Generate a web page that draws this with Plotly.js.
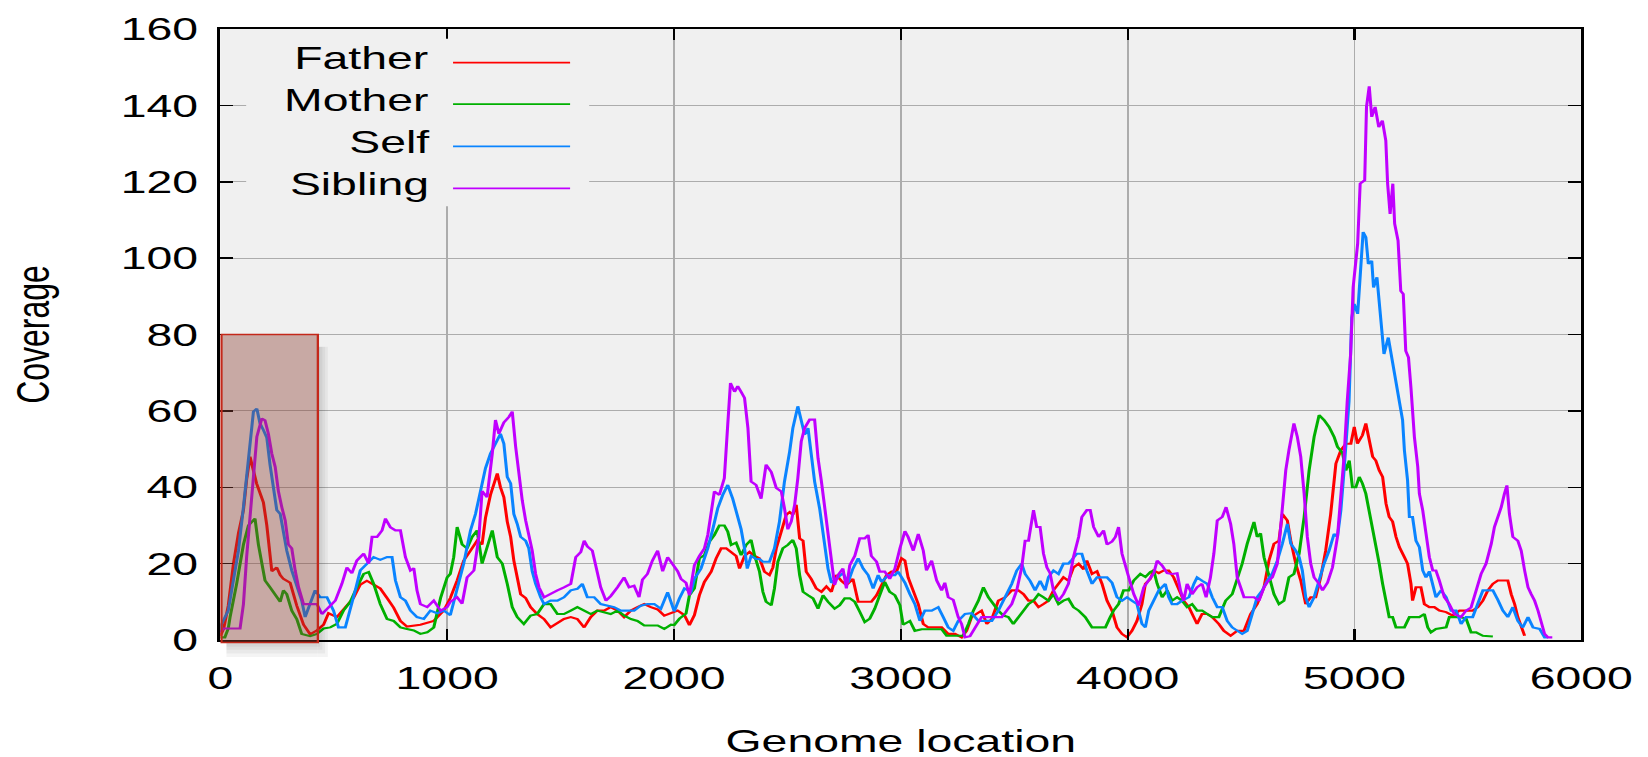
<!DOCTYPE html>
<html>
<head>
<meta charset="utf-8">
<script src="https://cdn.plot.ly/plotly-3.0.1.min.js"></script>
<style>
  html, body { margin: 0; padding: 0; background: #ffffff; width: 1648px; height: 757px; overflow: hidden; }
  #chart { width: 1137px; height: 780px; transform-origin: 0 0; }
</style>
</head>
<body>
<div id="chart"></div>
<script>
// ---------------- data (genome location, coverage) ----------------
const seriesNames = ["Father", "Mother", "Self", "Sibling"];
const seriesColors = ["#ff0000", "#00b000", "#0a84ff", "#c000ff"];

const fatherPts = [[0,1],[15,3],[35,9],[58,20],[80,28],[102,34],[116,42],[131,48],[160,41],[190,36],[205,30],[227,18],[249,19],[264,17],[278,16],[308,15],[337,9],[367,4],[396,1.5],[425,2.5],[455,4],[477,7],[514,6],[558,9],[587,11],[617,14.5],[646,15.5],[676,14.5],[705,13.5],[735,11],[764,8.5],[794,5],[823,3.5],[882,4],[941,5],[985,7.7],[1014,11],[1044,15.6],[1073,20.8],[1103,23.4],[1132,26],[1154,25],[1169,32],[1191,38],[1213,41.8],[1221,43.6],[1235,40],[1250,37.4],[1265,31],[1280,27],[1294,20.8],[1309,15.6],[1324,12],[1346,11],[1368,8.6],[1397,6.8],[1427,5.5],[1456,3.3],[1486,4.5],[1515,5.5],[1545,6],[1574,5.5],[1604,3.3],[1633,6],[1662,7.7],[1692,7.7],[1721,8.6],[1751,7.7],[1780,6],[1810,7.7],[1839,8.6],[1869,9.4],[1898,8.6],[1928,8],[1957,6.4],[1987,7],[2016,7.7],[2046,6.5],[2068,3.9],[2090,6.5],[2112,11.7],[2134,15.2],[2164,17.9],[2186,21.4],[2208,24],[2230,24],[2252,23.1],[2274,22],[2289,18.7],[2311,22],[2333,23.1],[2355,22],[2377,21.4],[2399,17.9],[2421,17],[2436,19],[2451,24],[2473,28.4],[2495,32.8],[2510,33.5],[2524,32.8],[2539,35.4],[2554,26.6],[2569,26],[2583,17.9],[2605,16],[2627,13.5],[2650,12.6],[2672,14],[2694,12.6],[2716,17],[2738,15.5],[2760,14.4],[2789,16],[2812,10],[2841,10],[2870,10],[2893,11.7],[2915,14.4],[2937,17],[2959,17.9],[2981,17.9],[3003,21.4],[3018,20.8],[3032,16.4],[3055,13],[3077,9.4],[3099,4.2],[3121,3.3],[3150,3.3],[3180,3.3],[3209,1.6],[3239,1.6],[3268,0.7],[3290,2.4],[3312,6],[3334,6.8],[3356,7.7],[3379,4.2],[3401,5.5],[3430,10.3],[3460,11.2],[3489,13],[3518,13],[3541,12],[3563,10.3],[3585,10.3],[3607,8.6],[3629,9.4],[3651,10.3],[3673,13],[3695,14.7],[3717,16.4],[3739,15.5],[3761,19],[3784,20],[3806,18.5],[3820,20.8],[3843,17.3],[3865,18],[3887,14.7],[3909,10.3],[3931,7.7],[3953,3.3],[3975,1.6],[3997,0.7],[4019,2.4],[4041,5],[4063,9.4],[4078,14.7],[4100,16],[4115,18.2],[4137,17.5],[4159,18.2],[4181,18.2],[4203,16.4],[4225,13],[4247,10.3],[4270,8.6],[4292,6],[4306,4.2],[4328,6.8],[4351,6.8],[4373,6],[4402,4.2],[4424,2.4],[4454,1.1],[4483,2.4],[4513,2.4],[4542,6.8],[4571,9.4],[4601,13.8],[4623,20.8],[4645,25.2],[4667,26],[4682,33],[4704,31.3],[4719,26],[4741,20],[4763,15.6],[4785,9.4],[4807,11.2],[4829,11.2],[4851,16.4],[4873,23.4],[4895,33],[4918,46.2],[4940,49.7],[4962,51.4],[4984,51.4],[4999,55.8],[5013,51.4],[5035,53.6],[5050,56.7],[5065,52.3],[5080,48],[5094,47],[5109,44.4],[5124,42.7],[5139,35.7],[5153,32.2],[5168,31],[5183,27],[5198,24.3],[5220,21.7],[5234,20],[5249,14.7],[5256,10.3],[5271,13.8],[5293,13.8],[5308,9.4],[5330,8.6],[5352,8.6],[5374,7.7],[5404,7.3],[5433,6.4],[5463,7.7],[5492,7.7],[5521,7.7],[5544,8.6],[5566,10.3],[5588,13],[5610,14.7],[5632,15.6],[5654,15.6],[5676,15.6],[5691,12],[5706,9.4],[5720,6],[5735,3.3],[5750,1.1]];

const motherPts = [[0,0.7],[20,0.7],[35,3],[43,6],[72,14.7],[102,25],[124,30],[153,31.8],[168,25],[183,20],[197,15.6],[219,13.8],[242,12],[264,10],[278,13],[293,12],[315,7.7],[337,5.5],[359,1.6],[396,1],[426,1.6],[455,3],[485,3.3],[514,4.2],[543,7.7],[573,10],[602,13.8],[632,17.3],[654,17.8],[676,14.7],[705,9.4],[735,5.5],[764,5],[794,3.3],[823,2.9],[853,2.5],[882,1.6],[912,2],[941,3.3],[971,11],[1000,16.4],[1014,17.3],[1029,21.7],[1044,29.6],[1066,25],[1088,24],[1110,27],[1132,28.7],[1154,20],[1176,24],[1199,28.7],[1221,21.7],[1243,20],[1265,14.7],[1287,8.6],[1309,6],[1338,4.2],[1368,6.4],[1397,6.8],[1427,9.4],[1456,9.4],[1486,6.8],[1515,6.8],[1545,7.7],[1574,8.6],[1604,7.7],[1633,6.8],[1662,7.7],[1692,7.3],[1721,6.8],[1751,7.7],[1780,6.4],[1810,5.5],[1839,5],[1869,3.8],[1898,3.8],[1928,3.8],[1957,2.9],[1987,4],[2001,3.9],[2024,5.6],[2053,6.9],[2068,11.7],[2090,13.5],[2112,21.4],[2134,22.2],[2156,25.7],[2178,27.5],[2200,30],[2222,30],[2237,28.4],[2252,24.9],[2274,25.5],[2296,22.2],[2318,24.9],[2340,26.2],[2355,22.2],[2377,17.9],[2392,12.6],[2406,10],[2429,9.1],[2443,13.5],[2458,20.5],[2480,24],[2502,24.9],[2524,26.2],[2539,24],[2554,17],[2569,12.6],[2591,11.7],[2613,10.9],[2635,8.2],[2657,11.7],[2679,10],[2708,8.2],[2730,9.1],[2753,10.9],[2775,10.9],[2797,10],[2819,7.4],[2841,4.7],[2863,5.6],[2885,8.2],[2907,11.7],[2929,15.2],[2951,12.6],[2974,11.7],[2996,9.1],[3010,4],[3040,5],[3062,2.4],[3092,2.8],[3121,2.8],[3150,2.8],[3180,2.8],[3202,1.1],[3239,1.1],[3275,1.1],[3298,4.2],[3320,7.7],[3342,10.3],[3364,13.8],[3386,11.2],[3408,9.4],[3430,7.7],[3452,6.4],[3474,6],[3496,4.2],[3518,6],[3541,7.7],[3563,9.4],[3585,10.3],[3607,12],[3629,11.2],[3651,10.3],[3673,12],[3695,9.4],[3717,10.3],[3739,10.8],[3761,8.6],[3784,7.7],[3813,6],[3843,3.3],[3872,3.3],[3902,3.3],[3923,6],[3938,7.7],[3960,9.4],[3982,13],[4005,13],[4027,15.6],[4056,17.3],[4078,16.5],[4100,17.8],[4115,18.2],[4130,14.7],[4152,11.2],[4174,13],[4196,10.3],[4218,11.2],[4240,10.3],[4262,8.6],[4284,9.4],[4306,7.7],[4328,7.7],[4351,6.8],[4373,6],[4402,6],[4432,10.3],[4461,12],[4483,15.6],[4505,20],[4527,25.2],[4557,30.9],[4571,27],[4586,27.9],[4601,21.7],[4623,16.4],[4645,12],[4667,9.4],[4689,10.3],[4711,16.4],[4733,17.3],[4756,22.6],[4778,32.2],[4800,44.4],[4822,53.2],[4844,58.9],[4866,57.6],[4888,55.8],[4910,53.2],[4925,50.6],[4947,49],[4962,44.4],[4977,47],[4991,40],[5006,40],[5021,42.7],[5035,41],[5050,38.3],[5065,34],[5080,28.7],[5094,25.2],[5109,20],[5124,14.7],[5139,9.4],[5153,6],[5168,6],[5183,3.3],[5220,3.3],[5242,6],[5286,6],[5308,6.8],[5323,3.3],[5337,2],[5359,2.9],[5404,3.3],[5418,6],[5463,6],[5492,5.6],[5514,2],[5536,2],[5566,1.1],[5610,0.9]];

const selfPts = [[0,2],[6,4.2],[35,7.7],[57,14.7],[80,23.4],[102,34.8],[124,48.8],[146,59.8],[161,60.6],[175,56.7],[190,55],[205,53],[219,46],[234,39],[249,34],[264,33],[278,28.7],[293,23.4],[315,18.2],[337,13.8],[359,10.3],[374,6],[396,9.4],[418,13],[440,11.2],[470,11.2],[499,7.7],[521,3.3],[551,3.3],[573,7.7],[595,13],[617,18.2],[647,20],[676,21.7],[705,21],[735,21.7],[757,21.7],[772,15.6],[794,11.2],[816,10.3],[838,7.7],[867,6],[897,5.5],[926,7.7],[956,7],[985,7.7],[1014,6.5],[1044,13],[1073,20],[1103,28.7],[1125,33],[1147,39],[1169,45],[1191,48.8],[1213,51.4],[1235,54],[1250,51.4],[1265,42.7],[1280,41],[1294,33],[1309,30.4],[1324,27],[1346,26],[1360,24],[1375,18],[1390,14.7],[1412,11.2],[1427,9.4],[1456,10.3],[1486,10.3],[1515,11.2],[1545,13],[1574,13.4],[1596,14.7],[1618,11.2],[1648,11.2],[1677,9.4],[1707,9],[1736,8.6],[1766,7.7],[1795,7.7],[1824,7.7],[1854,9],[1883,9.4],[1913,9.4],[1942,8.2],[1972,12.5],[2001,7.5],[2024,10.9],[2046,13.5],[2075,12.6],[2090,16],[2119,18.7],[2149,24],[2171,29],[2193,34.5],[2215,38],[2237,40.6],[2259,37],[2281,31.9],[2296,29],[2311,24],[2323,18.7],[2340,22],[2362,21.2],[2377,21.2],[2392,20.5],[2421,20.5],[2443,24],[2465,31],[2487,41.5],[2510,49.4],[2524,55.5],[2546,61.2],[2561,58],[2576,53.8],[2591,55.5],[2605,47.6],[2620,41.5],[2642,34.5],[2664,25.7],[2679,18.7],[2694,15],[2723,16.5],[2745,17.5],[2767,15],[2789,18.7],[2812,21.4],[2834,18.7],[2856,17],[2878,13.5],[2900,17],[2915,15.2],[2944,17],[2974,17],[2988,17.9],[3018,15],[3040,12],[3062,9.4],[3084,5],[3106,7.7],[3136,7.7],[3165,8.6],[3187,6],[3209,3.3],[3231,2.4],[3253,5],[3283,6.8],[3312,7],[3342,5],[3371,5],[3401,5],[3430,7.7],[3460,11.2],[3489,14.7],[3511,18.2],[3533,20],[3548,17.3],[3570,15.5],[3592,13],[3614,15.5],[3636,13],[3651,16.5],[3673,18.2],[3695,17.3],[3717,20],[3739,20],[3754,21],[3776,22.6],[3798,22.6],[3820,18.2],[3843,14.7],[3865,16.4],[3887,16.4],[3909,16.4],[3931,15],[3953,11.2],[3975,10.3],[3997,11.2],[4019,10.3],[4041,9.4],[4063,4.2],[4078,3.3],[4093,7.7],[4115,10.3],[4137,13],[4166,14.7],[4181,11.2],[4196,9.4],[4218,9.4],[4240,10.3],[4270,11.2],[4292,14.7],[4306,16.4],[4328,15.5],[4351,14.7],[4373,11.2],[4395,8.6],[4417,8.6],[4439,5],[4461,3.3],[4483,2.4],[4505,1.6],[4527,2.4],[4549,6.8],[4571,11.2],[4594,13],[4616,15.6],[4638,17.5],[4660,20.8],[4682,25.2],[4704,30.4],[4719,25.2],[4741,23.4],[4756,21.7],[4770,18.2],[4785,11.2],[4800,8.6],[4822,11.2],[4844,15.6],[4866,20],[4888,23.4],[4910,27.8],[4925,27],[4940,34],[4954,44.4],[4969,57.6],[4976,62.5],[4988,84.4],[4999,88],[5014,85.4],[5025,97.6],[5038,106.8],[5050,105.5],[5061,98.5],[5076,99.3],[5084,92.3],[5099,95],[5107,89.7],[5123,81.8],[5130,74.9],[5149,79.2],[5161,74.9],[5177,69.6],[5189,64.4],[5198,62.8],[5212,57.6],[5220,49.7],[5234,41.8],[5242,32.2],[5256,32.2],[5271,26],[5286,24.3],[5301,18.2],[5315,16.4],[5330,18],[5345,14.7],[5359,11.2],[5382,13],[5404,11.2],[5426,7.7],[5448,7.7],[5470,4.2],[5492,6],[5521,6],[5544,9.4],[5566,13],[5588,13],[5610,13],[5632,10.5],[5654,7.7],[5676,6],[5698,8.6],[5720,5],[5742,3.3],[5765,6],[5787,3.3],[5816,2.9],[5838,0.7],[5853,0.7]];

const siblingPts = [[0,2],[13,3],[87,3],[102,9.4],[116,21.7],[131,31.3],[146,41.8],[161,53.2],[183,58],[197,57.5],[212,54],[227,48.8],[242,45.3],[256,39],[271,34.8],[286,31.3],[300,25],[315,24],[330,18.2],[345,13.8],[367,9.4],[396,9.4],[426,9.4],[448,6.8],[477,8.5],[507,10.3],[536,14.7],[558,19],[580,17.5],[602,20.8],[632,22.6],[654,20],[669,27],[691,27],[713,28.7],[728,31.8],[750,29.5],[772,28.7],[794,28.7],[816,21.7],[838,18.2],[853,18.8],[867,13],[882,9.4],[912,8.6],[941,10.3],[971,7.7],[1000,8.6],[1014,10],[1044,11.2],[1066,9.5],[1088,16.4],[1118,18.2],[1140,27],[1154,39],[1176,37.4],[1199,48.8],[1213,57.6],[1228,54],[1250,57],[1272,58.4],[1287,59.8],[1302,50.6],[1316,42.7],[1331,36.6],[1346,31.3],[1360,27.8],[1375,23.4],[1390,17.3],[1405,13.8],[1427,11.2],[1456,12.2],[1486,13],[1515,13.8],[1545,14.7],[1567,21.7],[1589,23],[1604,26],[1618,24.5],[1640,23.4],[1662,17.3],[1677,13.8],[1700,10.3],[1721,11.5],[1751,13.8],[1780,16.4],[1802,13.8],[1824,14.2],[1846,11.2],[1861,15.8],[1883,17.3],[1905,20.8],[1928,23.4],[1950,18],[1972,21.7],[2001,19],[2016,18],[2031,16],[2053,15],[2068,11.7],[2090,19.6],[2112,22],[2134,24],[2149,27.5],[2164,33.6],[2178,38.9],[2200,38],[2222,42.4],[2237,56.4],[2249,67.3],[2267,65],[2281,66.5],[2296,65],[2311,63.4],[2326,55.5],[2340,41.5],[2362,40.6],[2384,37],[2406,45.9],[2429,44],[2451,39.8],[2473,38.9],[2487,34.5],[2502,29],[2517,31],[2532,35.4],[2546,42.4],[2561,52],[2576,55.5],[2598,57.7],[2620,57.7],[2635,47.6],[2650,41.5],[2664,34.5],[2679,29],[2694,21.4],[2708,14.4],[2723,17],[2745,18.7],[2760,13.5],[2775,19.6],[2797,22],[2819,26.6],[2841,26.6],[2856,27.5],[2870,22],[2893,20.5],[2907,17.9],[2929,17.9],[2951,16],[2974,18.7],[2996,24],[3018,28.5],[3032,27],[3055,23.4],[3077,27.8],[3099,23.4],[3113,18.2],[3136,20.8],[3158,15.6],[3180,13],[3194,15],[3209,11.2],[3231,10.5],[3253,6],[3268,4.2],[3283,0.7],[3305,1],[3327,3],[3356,6],[3386,6],[3415,6],[3445,6],[3467,7.7],[3489,9.4],[3511,13],[3533,19],[3548,26],[3563,26],[3585,34],[3599,29.6],[3614,29.6],[3629,22.6],[3644,19],[3658,17.5],[3673,13],[3695,10.3],[3717,12],[3739,14.7],[3761,21.7],[3784,27],[3798,32.2],[3820,34],[3835,34],[3850,29.6],[3872,27],[3894,28.7],[3909,25],[3931,25.8],[3946,27],[3960,29.6],[3975,22.6],[3990,19],[4005,16.4],[4027,12],[4049,9],[4071,13.8],[4093,15.6],[4115,17.5],[4130,20.8],[4152,19.5],[4174,17.5],[4196,17.3],[4218,17.5],[4233,13],[4247,10.3],[4262,14.7],[4284,12],[4306,13.8],[4328,14.7],[4346,11.2],[4365,16.4],[4380,22.6],[4395,31.3],[4417,32.2],[4434,34.8],[4454,30.4],[4468,25.2],[4483,16.4],[4498,13.8],[4513,11.2],[4535,11.2],[4557,11.2],[4579,10.3],[4601,13.8],[4616,15.2],[4638,16.4],[4660,20],[4682,36.6],[4697,44.4],[4711,49.7],[4733,56.7],[4748,53.2],[4763,48],[4778,38.3],[4792,27],[4807,20],[4822,16.4],[4844,14.7],[4859,13],[4881,15],[4903,19],[4925,27],[4940,37.4],[4954,48],[4968,62.5],[4983,74.9],[4994,92.3],[5014,103.8],[5025,119.5],[5045,120.4],[5053,139.6],[5065,145],[5076,137],[5091,139.6],[5107,134.3],[5123,136],[5138,130.8],[5146,119.5],[5157,111.6],[5169,119.5],[5177,109],[5192,104.6],[5204,91.4],[5215,90.6],[5226,75.7],[5238,74],[5249,66],[5256,60.2],[5264,53.2],[5279,45.3],[5286,38.3],[5301,33.9],[5315,27],[5330,21.7],[5345,18.2],[5359,18.2],[5374,15.6],[5396,11.2],[5418,9.4],[5440,6.8],[5470,6],[5492,7.7],[5514,8.5],[5536,13],[5558,17.3],[5580,20],[5603,25.2],[5617,29.6],[5632,32.2],[5647,34.8],[5661,38.3],[5672,40.5],[5683,33],[5698,27],[5720,26],[5735,23.4],[5750,18.2],[5765,13.8],[5779,12],[5794,10.3],[5809,7.7],[5823,4.2],[5838,1.6],[5853,0.7],[5872,0.7]];

const xTickVals = [0, 1000, 2000, 3000, 4000, 5000, 6000];
const yTickVals = [0, 20, 40, 60, 80, 100, 120, 140, 160];
const xTitle = "Genome location";
const yTitle = "Coverage";
const highlightRegion = [0, 430, 80];   // genome start, genome end, coverage top

// ---------------- build ----------------
const allPts = [fatherPts, motherPts, selfPts, siblingPts];
const traces = allPts.map((pts, i) => ({
  type: "scatter",
  mode: "lines",
  name: seriesNames[i],
  x: pts.map(p => p[0]),
  y: pts.map(p => p[1]),
  line: { color: seriesColors[i], width: 2.1 },
  hoverinfo: "skip",
  showlegend: false
}));

const FONT = '"Liberation Sans", Arial, Helvetica, sans-serif';

// manual legend: text right-aligned, sample line on the right
const legRowsY = [0.945, 0.877, 0.808, 0.739];
const legendShapes = [
  { type: "rect", xref: "paper", yref: "paper", x0: 0.019, x1: 0.271, y0: 0.710, y1: 0.984,
    fillcolor: "#f0f0f0", line: { width: 0 }, layer: "above" }
];
const legendAnns = [];
seriesNames.forEach((nm, i) => {
  legendShapes.push({ type: "line", xref: "paper", yref: "paper", x0: 0.171, x1: 0.257,
    y0: legRowsY[i], y1: legRowsY[i], line: { color: seriesColors[i], width: 1.8 }, layer: "above" });
  legendAnns.push({ xref: "paper", yref: "paper", x: 0.1555, y: legRowsY[i] + 0.007, xanchor: "right",
    yanchor: "middle", text: nm, showarrow: false, font: { family: FONT, size: 32, color: "#000" } });
});

const hx0 = highlightRegion[0] + 5, hx1 = highlightRegion[1], hyTop = highlightRegion[2] / 160;
const shadowColor = "rgba(0,0,0,0.045)";
const regionShapes = [];
// soft drop shadow on the right and below the region box
[[44, 0.024], [32, 0.018], [20, 0.012], [10, 0.007]].forEach(([dx, dy]) => {
  regionShapes.push({ type: "rect", xref: "x", yref: "paper", x0: hx1, x1: hx1 + dx,
    y0: -0.004 - dy, y1: hyTop - 0.02, fillcolor: shadowColor, line: { width: 0 }, layer: "above" });
  regionShapes.push({ type: "rect", xref: "x", yref: "paper", x0: hx0 + 22, x1: hx1,
    y0: -0.004 - dy, y1: -0.004, fillcolor: shadowColor, line: { width: 0 }, layer: "above" });
});
// highlighted region
regionShapes.push({ type: "rect", xref: "x", yref: "paper", x0: hx0, x1: hx1, y0: -0.004, y1: hyTop,
  fillcolor: "rgba(140,62,50,0.40)", line: { color: "#c4281a", width: 1.6 }, layer: "above" });

const axisCommon = {
  ticks: "inside", tickcolor: "#000", tickwidth: 1.5,
  showline: true, linecolor: "#000", linewidth: 2, mirror: "ticks",
  showgrid: true, gridcolor: "#acacac", gridwidth: 1.2, zeroline: false,
  tickfont: { family: FONT, size: 32, color: "#000" },
  fixedrange: true, automargin: false
};

const layout = {
  width: 1137, height: 780,
  margin: { l: 152, r: 46, t: 29, b: 140, pad: 0 },
  paper_bgcolor: "#ffffff", plot_bgcolor: "#f0f0f0",
  font: { family: FONT, size: 32, color: "#000" },
  showlegend: false,
  xaxis: Object.assign({}, axisCommon, {
    range: [0, 6000], tickmode: "array", tickvals: xTickVals, ticklen: 11,
    ticklabelstandoff: 9,
    title: { text: xTitle, font: { family: FONT, size: 32, color: "#000" }, standoff: 34 }
  }),
  yaxis: Object.assign({}, axisCommon, {
    range: [0, 160], tickmode: "array", tickvals: yTickVals, ticklen: 9,
    ticklabelstandoff: 7,
    title: { text: yTitle, font: { family: FONT, size: 32, color: "#000" }, standoff: 39 }
  }),
  shapes: regionShapes.concat(legendShapes),
  annotations: legendAnns
};

Plotly.newPlot("chart", traces, layout, { displayModeBar: false, staticPlot: true, responsive: false })
  .then(() => {
    // the reference chart is horizontally stretched; reproduce that aspect
    document.getElementById("chart").style.transform = "scaleX(" + (1648 / 1137) + ")";
  });
</script>
</body>
</html>
